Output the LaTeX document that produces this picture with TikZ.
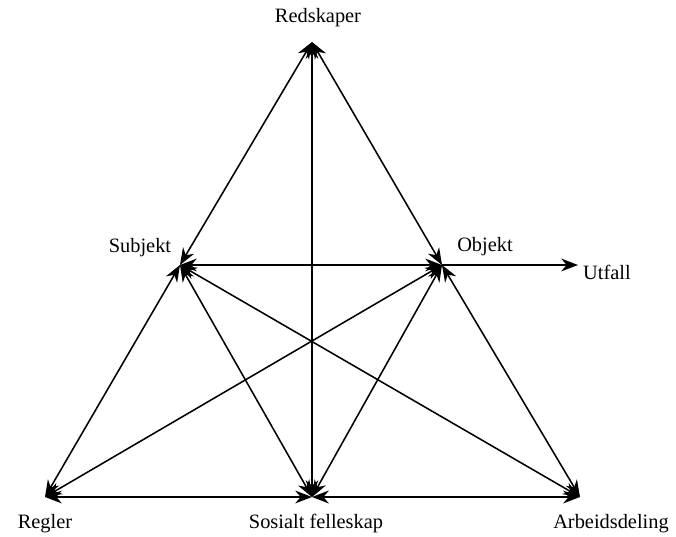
\documentclass[tikz,border=0pt]{standalone}
\usepackage{fontspec}
\setmainfont{Liberation Serif}
\usetikzlibrary{arrows.meta, positioning}

\begin{document}
\begin{tikzpicture}[
  >={Stealth[length=4.2mm, width=3.2mm]},
  link/.style={<->, line width=1.1pt, black},
  lbl/.style={font=\fontsize{14.5}{16}\selectfont, text=black, inner sep=0pt},
]

% Canvas
\useasboundingbox (0,0) rectangle (16.9,13.4);

% =============================================
% Corners of the activity system
% =============================================
\coordinate (red)  at (7.8,12.35);
\coordinate (subj) at (4.5,6.775);
\coordinate (obj)  at (11.05,6.775);
\coordinate (regl) at (1.125,0.975);
\coordinate (sos)  at (7.8,0.975);
\coordinate (arb)  at (14.5,0.975);
\coordinate (out)  at (14.45,6.775);

% Labels
\node[lbl] (red-lbl)  at (7.95,12.95)  {Redskaper};
\node[lbl] (subj-lbl) at (3.5,7.2)     {Subjekt};
\node[lbl] (obj-lbl)  at (12.125,7.225){Objekt};
\node[lbl] (out-lbl)  at (15.175,6.6)  {Utfall};
\node[lbl] (regl-lbl) at (1.125,0.3)   {Regler};
\node[lbl] (sos-lbl)  at (7.9,0.32)    {Sosialt felleskap};
\node[lbl] (arb-lbl)  at (15.275,0.32) {Arbeidsdeling};

% =============================================
% Upper triangle
% =============================================
\draw[link] (red) -- (subj);
\draw[link] (red) -- (obj);
\draw[link] (red) -- (sos);
\draw[link] (subj) -- (obj);
\draw[->, line width=1.1pt] (obj) -- (out);

% =============================================
% Lower part
% =============================================
\draw[link] (subj) -- (regl);
\draw[link] (subj) -- (sos);
\draw[link] (subj) -- (arb);
\draw[link] (obj) -- (regl);
\draw[link] (obj) -- (sos);
\draw[link] (obj) -- (arb);
\draw[link] (regl) -- (sos);
\draw[link, line width=1.6pt] (sos) -- (arb);

\end{tikzpicture}
\end{document}
